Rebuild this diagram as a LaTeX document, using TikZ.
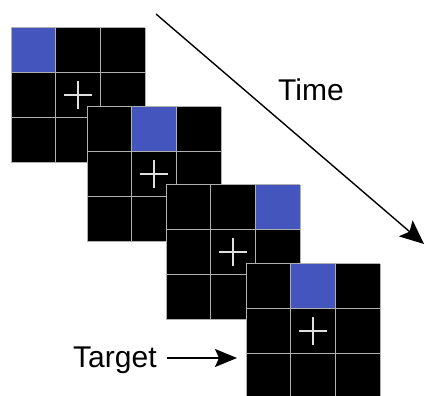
\documentclass[tikz,border=0pt]{standalone}
\usepackage{fontspec}
\setmainfont{Liberation Sans}
\usetikzlibrary{arrows.meta}
\definecolor{cueblue}{HTML}{4455BE}
\definecolor{gridgray}{HTML}{B0B0B0}
\definecolor{crossgray}{HTML}{E0E0E0}
\begin{document}
\begin{tikzpicture}[x=1pt,y=-1pt,
  gridline/.style={draw=gridgray,line width=1pt},
  crossline/.style={draw=crossgray,line width=1.6pt},
  arrowline/.style={draw=black,line width=1.4pt},
  label/.style={font=\fontsize{30}{33}\selectfont,inner sep=0pt}]
\useasboundingbox (0,0) rectangle (424,396);
\def\gs{134}
\def\cs{44.667}
\foreach \gx/\gy/\b in {11/28/0, 87/107/1, 166/185/2, 246/264/1} {
  \begin{scope}[shift={(\gx,\gy)}]
    \fill[black] (0,0) rectangle (\gs,\gs);
    \fill[cueblue] (\b*\cs,0) rectangle ++(\cs,\cs);
    \foreach \i in {0,1,2,3} {
      \draw[gridline] (\i*\cs,0) -- (\i*\cs,\gs);
      \draw[gridline] (0,\i*\cs) -- (\gs,\i*\cs);
    }
    \draw[crossline] (67-14,67) -- (67+14,67);
    \draw[crossline] (67,67-14) -- (67,67+14);
  \end{scope}
}
\coordinate (ts) at (156,14);
\coordinate (te) at (424,244);
\draw[arrowline,-{Stealth[length=24pt,width=21pt,inset=5pt]}] (ts) -- (te);
\node[label] (time) at (311,90) {Time};
\node[label,anchor=base west] (target) at (73,367) {Target};
\coordinate (tgend) at (237,358);
\draw[arrowline,-{Stealth[length=22pt,width=18pt,inset=4pt]}] (target.east |- tgend) ++(10,0) -- (tgend);
\end{tikzpicture}
\end{document}
